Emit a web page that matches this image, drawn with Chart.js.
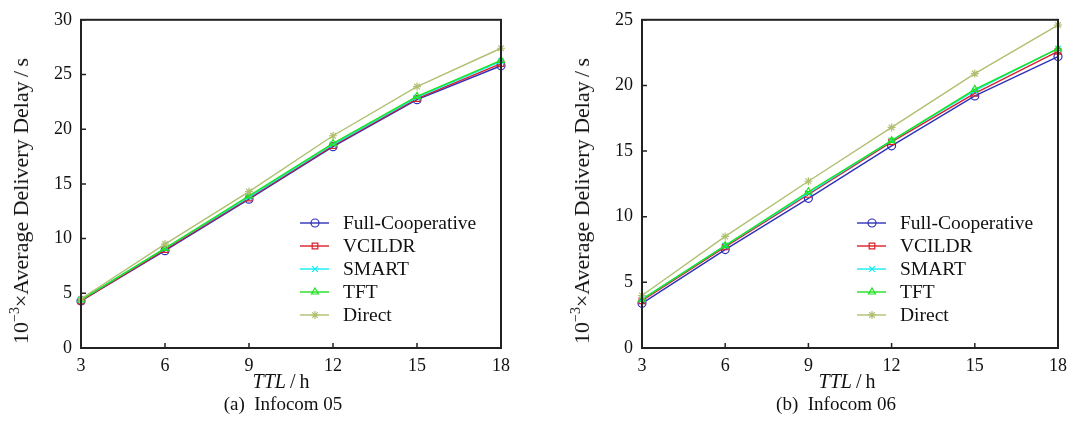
<!DOCTYPE html>
<html>
<head>
<meta charset="utf-8">
<script src="https://cdn.jsdelivr.net/npm/chart.js@4/dist/chart.umd.min.js"></script>
<style>
  body { margin: 0; background: #fff; }
  #wrap { position: relative; width: 1074px; height: 437px; font-family: 'Liberation Serif', 'Times New Roman', serif; color: #111; }
  canvas { position: absolute; top: 0; }
  .lbl { position: absolute; white-space: pre; transform: translate(-50%, -50%); font-size: 19px; line-height: 1; }
  .xtitle { font-size: 20px; }
  .ytitle { position: absolute; white-space: nowrap; font-size: 22px; line-height: 1; transform: translate(-50%, -50%) rotate(-90deg); }
  .ytitle sup { font-size: 14px; vertical-align: 9px; line-height: 0; }
</style>
</head>
<body>
<div id="wrap">
  <canvas id="infocom05" width="537" height="437" style="left:0"></canvas>
  <canvas id="infocom06" width="537" height="437" style="left:537px"></canvas>
  <div class="ytitle" style="left:21px; top:201px">10<sup>−3</sup>×Average Delivery Delay&thinsp;/&thinsp;s</div>
  <div class="ytitle" style="left:582px; top:201px">10<sup>−3</sup>×Average Delivery Delay&thinsp;/&thinsp;s</div>
  <div class="lbl xtitle" style="left:281px; top:381px"><i>TTL</i>&thinsp;/&thinsp;h</div>
  <div class="lbl xtitle" style="left:847px; top:381px"><i>TTL</i>&thinsp;/&thinsp;h</div>
  <div class="lbl" style="left:283px; top:403px">(a)  Infocom 05</div>
  <div class="lbl" style="left:836px; top:403px">(b)  Infocom 06</div>
</div>
<script>
const ttlHours = [3, 6, 9, 12, 15, 18];
const seriesNames = ['Full-Cooperative', 'VCILDR', 'SMART', 'TFT', 'Direct'];

// Infocom 05
const fullCoop05 = [4.3, 8.9, 13.6, 18.4, 22.7, 25.8];
const vcildr05   = [4.3, 9.0, 13.7, 18.5, 22.8, 26.0];
const smart05    = [4.4, 9.1, 13.8, 18.6, 22.9, 26.2];
const tft05      = [4.4, 9.1, 13.9, 18.7, 23.0, 26.3];
const direct05   = [4.5, 9.5, 14.3, 19.4, 23.9, 27.4];

// Infocom 06
const fullCoop06 = [3.4, 7.5, 11.4, 15.4, 19.2, 22.2];
const vcildr06   = [3.6, 7.7, 11.7, 15.7, 19.4, 22.6];
const smart06    = [3.7, 7.8, 11.8, 15.8, 19.6, 22.8];
const tft06      = [3.7, 7.8, 11.9, 15.8, 19.7, 22.8];
const direct06   = [4.0, 8.5, 12.7, 16.8, 20.9, 24.6];

const styles = [
    {color: '#3030b8', pointStyle: 'circle', order: 5},
    {color: '#d8202c', pointStyle: 'rect', order: 4},
    {color: '#10eeee', pointStyle: 'crossRot', order: 3},
    {color: '#20e020', pointStyle: 'triangle', order: 2},
    {color: '#b0c070', pointStyle: 'star', order: 1},
];

const serif = "'Liberation Serif', 'Times New Roman', serif";

function toPoints(values) {
    return ttlHours.map((h, i) => ({x: h, y: values[i]}));
}

function makeDatasets(seriesList) {
    return seriesList.map((values, i) => ({
        label: seriesNames[i],
        data: toPoints(values),
        borderColor: styles[i].color,
        backgroundColor: 'rgba(0,0,0,0)',
        pointStyle: styles[i].pointStyle,
        pointRadius: 4,
        pointBorderWidth: 1.2,
        borderWidth: 1.4,
        order: styles[i].order,
        clip: false,
    }));
}

// box around the plot plus inward ticks
const frame = {
    id: 'frame',
    afterDatasetsDraw(chart) {
        const {ctx, chartArea: a, scales} = chart;
        ctx.save();
        ctx.strokeStyle = '#222';
        ctx.lineWidth = 1.5;
        ctx.beginPath();
        scales.x.ticks.forEach((t, i) => {
            const px = scales.x.getPixelForTick(i);
            ctx.moveTo(px, a.bottom);
            ctx.lineTo(px, a.bottom - 5);
        });
        scales.y.ticks.forEach((t, i) => {
            const py = scales.y.getPixelForTick(i);
            ctx.moveTo(a.left, py);
            ctx.lineTo(a.left + 5, py);
        });
        ctx.stroke();
        ctx.lineWidth = 2;
        ctx.strokeRect(a.left, a.top, a.right - a.left, a.bottom - a.top);
        ctx.restore();
    }
};

// legend rows: line with marker, then name
const lineLegend = {
    id: 'lineLegend',
    afterDraw(chart) {
        const {ctx, chartArea: a} = chart;
        ctx.save();
        ctx.font = '19.5px ' + serif;
        ctx.textBaseline = 'middle';
        chart.data.datasets.forEach((ds, i) => {
            const y = a.bottom - 125 + i * 23;
            const x0 = a.right - 201;
            ctx.strokeStyle = ds.borderColor;
            ctx.lineWidth = 1.4;
            ctx.beginPath();
            ctx.moveTo(x0, y);
            ctx.lineTo(x0 + 29, y);
            ctx.stroke();
            ctx.fillStyle = 'rgba(0,0,0,0)';
            ctx.lineWidth = 1.2;
            Chart.helpers.drawPoint(ctx, {pointStyle: ds.pointStyle, radius: 4, rotation: 0, borderWidth: 1.2}, x0 + 15, y);
            ctx.fillStyle = '#111';
            ctx.fillText(ds.label, x0 + 43, y + 1);
        });
        ctx.restore();
    }
};

function buildChart(id, seriesList, yMax, plotLeft, plotRight, plotTop) {
    return new Chart(document.getElementById(id).getContext('2d'), {
        type: 'line',
        data: {datasets: makeDatasets(seriesList)},
        plugins: [frame, lineLegend],
        options: {
            responsive: false,
            animation: false,
            layout: {padding: {left: 0, right: 537 - plotRight, top: plotTop, bottom: 437 - 348 - 30}},
            plugins: {legend: {display: false}, tooltip: {enabled: false}},
            scales: {
                x: {
                    type: 'linear',
                    min: 3,
                    max: 18,
                    afterFit(s) { s.height = 30; },
                    afterBuildTicks(s) { s.ticks = ttlHours.map(v => ({value: v})); },
                    grid: {display: false, drawTicks: false},
                    border: {display: false},
                    ticks: {padding: 7, color: '#111', font: {family: serif, size: 18}},
                },
                y: {
                    min: 0,
                    max: yMax,
                    afterFit(s) { s.width = plotLeft; },
                    grid: {display: false, drawTicks: false},
                    border: {display: false},
                    ticks: {stepSize: 5, padding: 9, color: '#111', font: {family: serif, size: 18}},
                },
            },
        },
    });
}

buildChart('infocom05', [fullCoop05, vcildr05, smart05, tft05, direct05], 30, 81, 501, 18);
buildChart('infocom06', [fullCoop06, vcildr06, smart06, tft06, direct06], 25, 105, 525, 17);
</script>
</body>
</html>
